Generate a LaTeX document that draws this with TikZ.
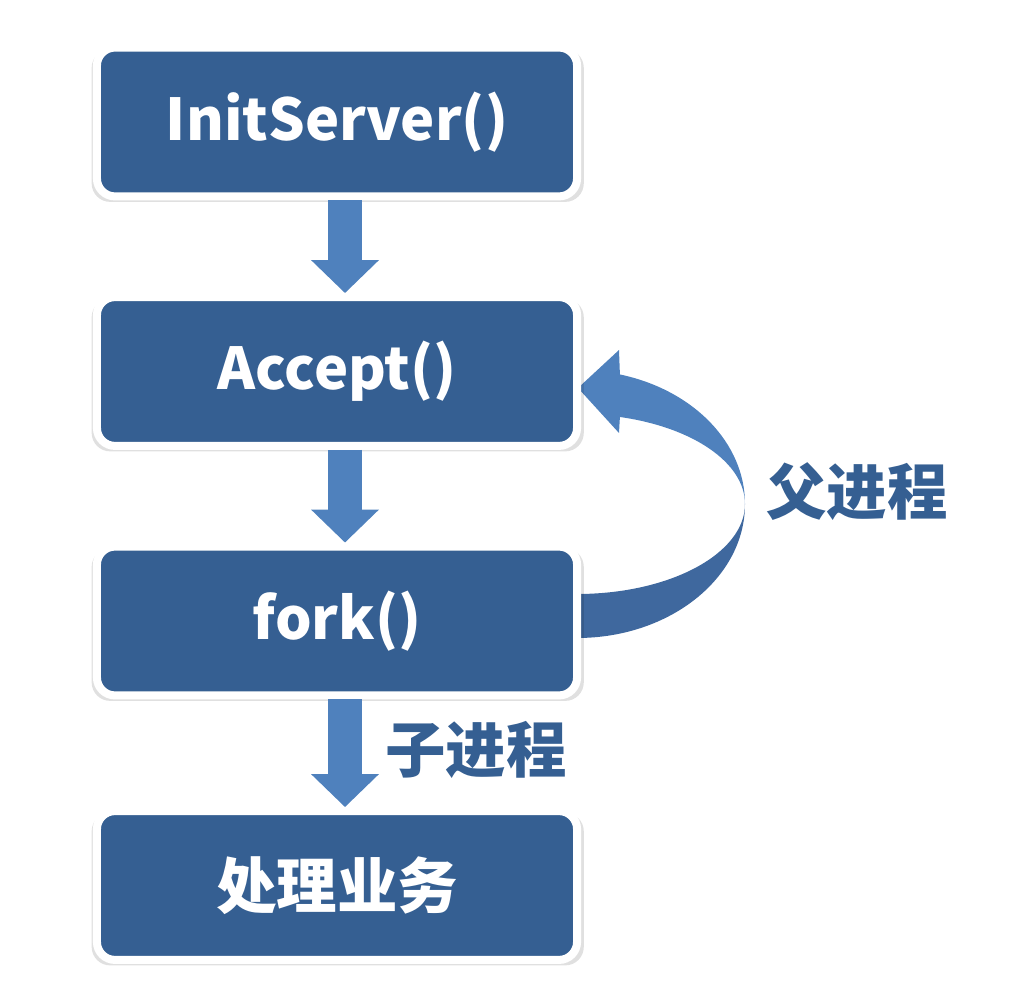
\documentclass[tikz,border=0pt]{standalone}
\usepackage{fontspec}
\setmainfont{Noto Sans CJK SC}
\usetikzlibrary{arrows.meta,shadows}
\definecolor{boxblue}{HTML}{355F92}
\definecolor{arrowblue}{HTML}{4F81BD}
\definecolor{bandblue}{HTML}{3F689E}
\tikzset{
  stage/.style={rectangle, rounded corners=0.45cm, fill=boxblue, draw=white, line width=5.7pt,
    minimum width=12cm, minimum height=3.72cm, text=white,
    font=\bfseries\fontsize{41}{48}\selectfont,
    drop shadow={shadow xshift=0.5pt, shadow yshift=-2.5pt, shadow scale=1.025, fill=black, opacity=0.12}},
  wide/.style={font=\bfseries\fontsize{43}{50}\selectfont},
  flow/.style={line width=0.85cm, draw=arrowblue, -{Triangle[length=0.825cm, width=1.65cm]}},
  tag/.style={text=boxblue, font=\bfseries\fontsize{43}{50}\selectfont}
}
\begin{document}
\begin{tikzpicture}[x=0.025cm, y=-0.025cm]
  \useasboundingbox (0,0) rectangle (1014,1003);
  \fill[bandblue] (577,638) arc[start angle=90, end angle=0, x radius=168, y radius=134]
    arc[start angle=0, end angle=90, x radius=168, y radius=90] -- cycle;
  \fill[arrowblue] (745,504) arc[start angle=0, end angle=-75.2, x radius=168, y radius=134]
    -- (619,350) -- (578,388) -- (619,433) -- (619.9,417)
    arc[start angle=-75.2, end angle=0, x radius=168, y radius=90] -- cycle;
  \node[stage] (init) at (337,122) {InitServer()};
  \node[stage] (accept) at (337,371.5) {Accept()};
  \node[stage] (fork) at (337,621) {fork()};
  \node[stage, wide] (work) at (337,885.5) {处理业务};
  \draw[flow] ([xshift=0.2cm]init.south) -- ([xshift=0.2cm]accept.north);
  \draw[flow] ([xshift=0.2cm]accept.south) -- ([xshift=0.2cm]fork.north);
  \draw[flow] ([xshift=0.2cm]fork.south) -- ([xshift=0.2cm]work.north);
  \node[tag] (child) at (476,750) {子进程};
  \node[tag] (parent) at (857,492) {父进程};
\end{tikzpicture}
\end{document}
